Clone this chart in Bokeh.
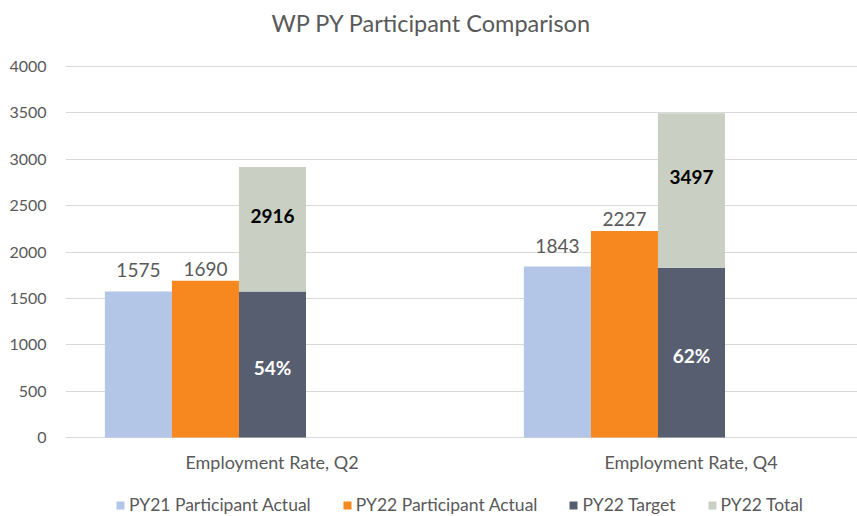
from bokeh.plotting import figure
from bokeh.models import (ColumnDataSource, FixedTicker, Legend, LegendItem,
                          Range1d, LabelSet, Label)
from bokeh.core.properties import value
from bokeh.embed import file_html
from bokeh.resources import INLINE

# ---------------- data ----------------
title = "WP PY Participant Comparison"
categories = ["Employment Rate, Q2", "Employment Rate, Q4"]
py21_actual = [1575, 1843]
py22_actual = [1690, 2227]
py22_target = [1575, 1830]
py22_total = [2916, 3497]
pct_labels = ["54%", "62%"]
series_names = ["PY21 Participant Actual", "PY22 Participant Actual",
                "PY22 Target", "PY22 Total"]
y_ticks = [0, 500, 1000, 1500, 2000, 2500, 3000, 3500, 4000]

# ---------------- style / layout ----------------
FONT = "Lato"
C21 = "#B4C6E7"
C22 = "#F7881F"
CTGT = "#575E70"
CTOT = "#C9D0C3"
GREY = "#595959"

W, H = 857, 516
LEFT = 65                 # plot area left edge (px)
TOP, BOTTOM = 66, 437     # pixel rows of the 4000 and 0 grid lines
CAT_PX = 419              # width of one category (px)
y_max = max(y_ticks)
px_per_unit = (BOTTOM - TOP) / y_max
y_lo = -(H - BOTTOM) / px_per_unit
y_hi = y_max + TOP / px_per_unit
x_hi = (W - LEFT) / CAT_PX

idx = list(range(len(categories)))
slot = [0.174, 0.334, 0.494]   # bar centres inside a category (category width = 1)
bw = 0.16

src = ColumnDataSource(dict(
    x21=[i + slot[0] for i in idx],
    x22=[i + slot[1] for i in idx],
    xt=[i + slot[2] for i in idx],
    xc=[i + 0.5 for i in idx],
    zero=[0 for _ in idx],
    cat=categories,
    a21=py21_actual,
    a22=py22_actual,
    tgt=py22_target,
    tot=py22_total,
    tot_mid=[(t + s) / 2 for t, s in zip(py22_target, py22_total)],
    tgt_mid=[t / 2 for t in py22_target],
    a21_txt=[str(v) for v in py21_actual],
    a22_txt=[str(v) for v in py22_actual],
    tot_txt=[str(v) for v in py22_total],
    pct=pct_labels,
))

p = figure(width=W, height=H, output_backend="svg", toolbar_location=None,
           x_range=Range1d(0, x_hi), y_range=Range1d(y_lo, y_hi),
           x_axis_location=None,
           min_border_left=LEFT, min_border_right=0, min_border_top=0,
           min_border_bottom=0)
p.outline_line_color = None
p.background_fill_color = "white"

r21 = p.vbar(x="x21", top="a21", width=bw, source=src, color=C21, line_color=None)
r22 = p.vbar(x="x22", top="a22", width=bw, source=src, color=C22, line_color=None)
rt = p.vbar(x="xt", top="tgt", width=bw, source=src, color=CTGT, line_color=None)
rs = p.vbar(x="xt", bottom="tgt", top="tot", width=bw, source=src, color=CTOT, line_color=None)

# y axis
p.yaxis.ticker = FixedTicker(ticks=y_ticks)
p.yaxis.axis_line_color = None
p.yaxis.major_tick_line_color = None
p.yaxis.minor_tick_line_color = None
p.yaxis.major_label_text_font = FONT
p.yaxis.major_label_text_font_size = "16px"
p.yaxis.major_label_text_color = GREY
p.yaxis.major_label_standoff = 13

p.xgrid.grid_line_color = None
p.ygrid.ticker = FixedTicker(ticks=y_ticks)
p.ygrid.grid_line_color = "#D9D9D9"
p.ygrid.grid_line_width = 1

# title
p.add_layout(Label(x=366, y=H - 22, x_units="screen", y_units="screen",
                   text=title, text_font=FONT, text_font_size="23.5px",
                   text_color=GREY, text_align="center", text_baseline="middle"))

# category labels under the plot
p.add_layout(LabelSet(x="xc", y="zero", text="cat", y_offset=-24, x_offset=-3,
                      source=src, text_font=value(FONT), text_font_size="18px",
                      text_color=GREY, text_align="center",
                      text_baseline="middle"))

# data labels
common = dict(source=src, text_font=value(FONT), text_align="center",
              text_font_size="19px")
p.add_layout(LabelSet(x="x21", y="a21", text="a21_txt", y_offset=14,
                      text_baseline="bottom", text_color=GREY, **common))
p.add_layout(LabelSet(x="x22", y="a22", text="a22_txt", y_offset=5,
                      text_baseline="bottom", text_color=GREY, **common))
p.add_layout(LabelSet(x="xt", y="tot_mid", text="tot_txt", y_offset=13,
                      text_baseline="middle", text_color="black",
                      text_font_style="bold", **common))
p.add_layout(LabelSet(x="xt", y="tgt_mid", text="pct", y_offset=-3,
                      text_baseline="middle", text_color="white",
                      text_font_style="bold", **common))

legend = Legend(items=[LegendItem(label=n, renderers=[r])
                       for n, r in zip(series_names, [r21, r22, rt, rs])],
                orientation="horizontal", location=(50, 1),
                glyph_width=10, glyph_height=10, label_standoff=4, spacing=31,
                label_text_font=FONT, label_text_font_size="17.5px",
                label_text_color=GREY, padding=0, margin=0,
                border_line_color=None, background_fill_alpha=0)
p.add_layout(legend, "center")

open("out.html", "w").write(file_html(p, INLINE))
